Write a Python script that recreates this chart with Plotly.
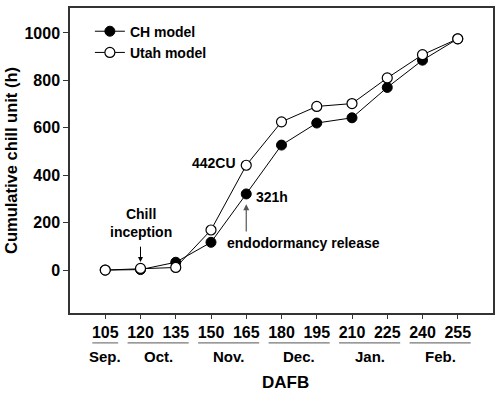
import plotly.graph_objects as go

dafb = [105, 120, 135, 150, 165, 180, 195, 210, 225, 240, 255]
ch_model = [0, 2, 33, 117, 321, 527, 620, 642, 770, 885, 975]
utah_model = [0, 7, 11, 169, 442, 625, 690, 702, 810, 908, 975]
tick_labels = [str(d) for d in dafb]
months = ["Sep.", "Oct.", "Nov.", "Dec.", "Jan.", "Feb."]
month_spans = [(105, 105), (120, 135), (150, 165), (180, 195), (210, 225), (240, 255)]

FONT = "Liberation Sans"
AX = "#333333"

fig = go.Figure()
fig.add_trace(go.Scatter(
    x=dafb, y=ch_model, mode="lines+markers", name="CH model",
    line=dict(color="black", width=1),
    marker=dict(symbol="circle", size=10, color="black", line=dict(color="black", width=1)),
))
fig.add_trace(go.Scatter(
    x=dafb, y=utah_model, mode="lines+markers", name="Utah model",
    line=dict(color="black", width=1),
    marker=dict(symbol="circle", size=10, color="white", line=dict(color="black", width=1.2)),
))

bold = dict(family=FONT, size=15, color="black", weight="bold")
ann_font = dict(family=FONT, size=14, color="black", weight="bold")

ann = []
shapes = []
for m, (a, b) in zip(months, month_spans):
    ann.append(dict(x=(a + b) / 2, y=-0.144, xref="x", yref="paper", text=m,
                    showarrow=False, font=bold, xanchor="center", yanchor="middle"))
    shapes.append(dict(type="line", xref="x", yref="paper", x0=a - 5.5, x1=b + 5.5,
                       y0=-0.098, y1=-0.098, line=dict(color="#777777", width=1.2)))
ann.append(dict(x=0.51, y=-0.229, xref="paper", yref="paper", text="DAFB", showarrow=False,
                font=dict(family=FONT, size=17, color="black", weight="bold"),
                xanchor="center", yanchor="middle"))

# Chill inception
ann.append(dict(x=120, y=198, xref="x", yref="y", text="Chill<br>inception", showarrow=False,
                font=ann_font, xanchor="center", yanchor="middle"))
ann.append(dict(x=120, y=34, ax=120, ay=105, xref="x", yref="y", axref="x", ayref="y",
                text="", showarrow=True, arrowhead=2, arrowsize=1, arrowwidth=1,
                arrowcolor="black"))
# Endodormancy release
ann.append(dict(x=165, y=278, ax=165, ay=156, xref="x", yref="y", axref="x", ayref="y",
                text="", showarrow=True, arrowhead=2, arrowsize=1, arrowwidth=1.2,
                arrowcolor="#555555"))
ann.append(dict(x=156, y=114, xref="x", yref="y", text="endodormancy release", showarrow=False,
                font=ann_font, xanchor="left", yanchor="middle"))
ann.append(dict(x=168.5, y=308, xref="x", yref="y", text="321h", showarrow=False,
                font=ann_font, xanchor="left", yanchor="middle"))
ann.append(dict(x=161.5, y=451, xref="x", yref="y", text="442CU", showarrow=False,
                font=ann_font, xanchor="right", yanchor="middle"))

fig.update_layout(
    width=500, height=395,
    margin=dict(l=70, r=7, t=8, b=82, autoexpand=False),
    paper_bgcolor="white", plot_bgcolor="white",
    font=dict(family=FONT, color="black"),
    showlegend=True,
    legend=dict(x=0.047, y=0.975, xanchor="left", yanchor="top",
                bgcolor="rgba(0,0,0,0)", font=dict(family=FONT, size=14, color="black", weight="bold"),
                tracegroupgap=0, itemwidth=30),
    annotations=ann,
    shapes=shapes,
)
fig.update_xaxes(range=[90, 270], tickvals=dafb, ticktext=tick_labels, automargin=False,
                 showgrid=False, zeroline=False, showline=True, mirror=True,
                 linecolor=AX, linewidth=1.5, ticks="outside", ticklen=4, tickcolor=AX,
                 tickfont=dict(family=FONT, size=16, color="black", weight="bold"))
fig.update_yaxes(range=[-181, 1105], tickvals=[0, 200, 400, 600, 800, 1000], automargin=False,
                 showgrid=False, zeroline=False, showline=True, mirror=True,
                 linecolor=AX, linewidth=1.5, ticks="outside", ticklen=5, tickcolor=AX,
                 tickfont=dict(family=FONT, size=16, color="black", weight="bold"),
                 title=dict(text="Cumulative chill unit (h)", standoff=3,
                            font=dict(family=FONT, size=16.5, color="black", weight="bold")))

fig.write_html("out.html", config={"displayModeBar": False},
               post_script="document.body.style.margin='0';")
